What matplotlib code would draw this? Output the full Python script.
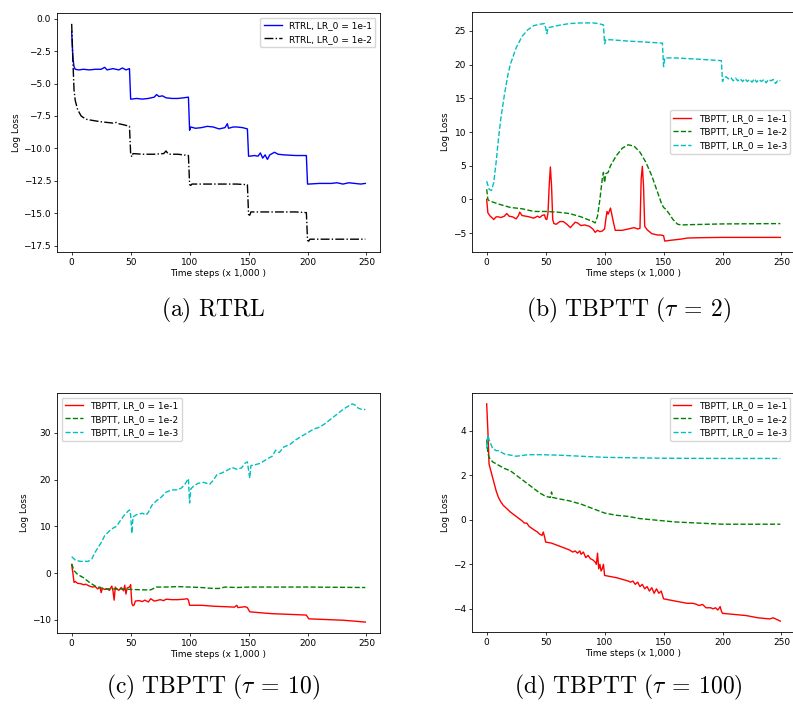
import matplotlib
matplotlib.use('Agg')
import matplotlib.pyplot as plt

plt.rcParams['mathtext.fontset'] = 'cm'

# ---- (a) RTRL ----
rtrl1_x = [0, 1, 2, 3, 6, 10, 15, 20, 25, 28, 30, 35, 40, 43, 46, 49, 50, 51, 55, 60, 65, 70, 72, 74, 77, 80, 85, 90, 95, 99,
           100, 101, 105, 110, 115, 120, 125, 130, 132, 133, 137, 140, 145, 149, 150, 151, 155, 158, 160, 162, 164, 166,
           168, 172, 175, 180, 190, 199, 200, 201, 210, 220, 225, 230, 235, 240, 245, 249]
rtrl1_y = [-1.0, -3.0, -3.7, -3.9, -3.95, -3.9, -3.95, -3.9, -3.9, -3.75, -3.95, -3.85, -3.95, -3.8, -3.95, -3.85, -6.2,
           -6.2, -6.15, -6.2, -6.15, -6.05, -5.85, -6.0, -5.95, -6.1, -6.15, -6.15, -6.1, -6.05,
           -8.6, -8.35, -8.45, -8.4, -8.3, -8.35, -8.5, -8.4, -8.1, -8.45, -8.35, -8.35, -8.4, -8.5, -10.6, -10.6, -10.55,
           -10.6, -10.35, -10.75, -10.5, -10.85, -10.5, -10.3, -10.45, -10.5, -10.55, -10.55, -12.75, -12.75, -12.7,
           -12.7, -12.65, -12.75, -12.65, -12.7, -12.75, -12.7]
rtrl2_x = [0, 1, 2, 3, 5, 8, 12, 18, 25, 30, 35, 38, 40, 45, 49, 50, 51, 52, 60, 70, 78, 80, 82, 90, 99, 100, 101, 102, 110,
           120, 130, 140, 149, 150, 151, 152, 160, 170, 180, 190, 199, 200, 201, 202, 210, 220, 230, 240, 249]
rtrl2_y = [-0.4, -3.2, -5.5, -6.3, -7.0, -7.5, -7.75, -7.85, -7.95, -8.0, -8.05, -8.0, -8.1, -8.2, -8.3, -10.4, -10.65,
           -10.4, -10.45, -10.45, -10.4, -10.2, -10.45, -10.45, -10.55, -12.8, -12.85, -12.75, -12.75, -12.75, -12.75,
           -12.75, -12.8, -15.1, -15.15, -14.9, -14.9, -14.9, -14.9, -14.9, -14.95, -17.1, -17.15, -17.0, -17.0, -17.0,
           -17.0, -17.0, -17.0]

# ---- (b) TBPTT tau = 2 ----
b1_x = [0, 1, 3, 5, 6, 8, 10, 12, 15, 17, 19, 22, 25, 27, 28, 30, 33, 36, 40, 43, 45, 47, 49, 50, 51, 52, 53, 54, 55, 56,
        57, 59, 62, 65, 68, 71, 73, 75, 77, 80, 83, 87, 90, 92, 94, 96, 98, 100, 101, 102, 103, 105, 107, 109, 115, 120,
        125, 128, 130, 131, 132, 133, 134, 136, 140, 145, 148, 150, 151, 155, 160, 165, 170, 180, 200, 210, 230, 249]
b1_y = [0.0, -2.0, -2.5, -2.8, -3.0, -2.6, -2.6, -2.7, -2.5, -2.1, -2.5, -2.6, -2.9, -2.4, -1.9, -2.4, -2.5, -2.6, -2.8,
        -2.5, -2.7, -2.4, -2.3, -2.9, -3.0, -2.0, 2.0, 4.8, 2.0, -3.0, -3.6, -3.7, -3.3, -3.3, -3.7, -4.2, -3.8, -3.4,
        -3.5, -3.9, -3.8, -4.0, -4.4, -4.9, -4.6, -4.8, -4.7, -4.4, -3.0, -1.8, -2.2, -1.3, -3.0, -4.6, -4.6, -4.4,
        -4.2, -4.4, -4.3, 3.0, 4.9, 2.0, -4.0, -4.5, -5.1, -5.3, -5.3, -5.4, -6.2, -6.1, -6.0, -5.9, -5.75, -5.7,
        -5.65, -5.65, -5.65, -5.65]
b2_x = [0, 1, 2, 10, 20, 30, 40, 50, 60, 70, 80, 90, 92, 94, 96, 98, 99, 100, 101, 103, 105, 110, 115, 120, 125, 130, 135,
        140, 145, 148, 150, 152, 155, 158, 162, 165, 175, 200, 249]
b2_y = [1.5, 0.0, -0.2, -0.7, -1.2, -1.4, -1.8, -1.8, -1.9, -2.1, -2.6, -3.3, -3.5, -2.5, 0.0, 3.0, 4.0, 2.5, 3.8, 4.0,
        5.0, 6.5, 7.6, 8.1, 7.9, 7.0, 5.5, 3.5, 1.0, -0.5, -1.2, -1.5, -2.2, -3.0, -3.7, -3.8, -3.75, -3.65, -3.6]
b3_x = [0, 2, 4, 6, 8, 10, 12, 15, 18, 20, 25, 30, 35, 40, 45, 49, 50, 51, 52, 55, 60, 70, 80, 90, 95, 99, 100, 101, 105,
        120, 140, 149, 150, 151, 160, 180, 199, 200, 201, 203, 205, 207, 209, 211, 213, 215, 217, 219, 221, 223, 225,
        227, 229, 231, 233, 235, 237, 239, 241, 243, 245, 247, 249]
b3_y = [2.7, 1.5, 1.3, 2.5, 5.5, 9.0, 12.0, 15.5, 18.5, 20.0, 22.5, 24.2, 25.2, 25.8, 26.0, 26.1, 25.5, 24.6, 25.5, 25.6,
        25.8, 26.1, 26.2, 26.2, 26.1, 25.9, 23.1, 23.7, 23.7, 23.5, 23.3, 23.2, 19.7, 21.0, 21.0, 20.8, 20.6, 17.5,
        18.0, 18.2, 17.9, 18.1, 17.6, 18.0, 17.6, 17.9, 17.5, 17.9, 17.5, 17.8, 17.4, 17.9, 17.4, 17.8, 17.5, 17.8,
        17.3, 17.8, 17.6, 17.8, 17.2, 17.7, 17.6]

# ---- (c) TBPTT tau = 10 ----
c1_x = [0, 1, 2, 3, 5, 8, 10, 12, 15, 18, 20, 22, 24, 25, 26, 28, 30, 32, 34, 35, 36, 37, 38, 40, 42, 44, 45, 46, 47, 49,
        50, 51, 52, 53, 54, 57, 60, 62, 65, 67, 70, 72, 75, 78, 80, 85, 90, 95, 98, 99, 100, 110, 120, 130, 138, 140,
        141, 144, 147, 149, 151, 160, 170, 180, 190, 199, 201, 210, 220, 230, 240, 249]
c1_y = [1.8, 0.0, -2.0, -1.8, -2.2, -2.3, -2.5, -2.4, -2.8, -3.0, -2.9, -3.4, -3.0, -4.2, -3.3, -3.5, -3.4, -3.7, -2.8,
        -3.8, -5.8, -3.0, -3.4, -3.7, -3.1, -3.8, -2.6, -4.5, -3.2, -3.0, -2.5, -6.5, -7.0, -6.8, -6.0, -5.9, -6.1,
        -5.8, -6.2, -5.5, -6.0, -5.9, -5.7, -5.9, -5.6, -5.7, -5.7, -5.6, -5.5, -5.8, -6.9, -6.9, -7.1, -7.2, -7.3,
        -6.9, -7.4, -7.3, -7.2, -7.4, -8.3, -8.5, -8.7, -8.8, -8.9, -9.0, -9.8, -9.9, -10.0, -10.1, -10.3, -10.5]
c2_x = [0, 2, 5, 10, 15, 20, 25, 30, 40, 50, 60, 67, 72, 80, 90, 100, 110, 120, 125, 130, 140, 150, 160, 200, 249]
c2_y = [2.0, 0.5, -0.3, -1.0, -2.0, -2.8, -3.2, -3.4, -3.4, -3.5, -3.6, -3.6, -3.0, -3.0, -2.9, -3.0, -3.1, -3.3, -3.3,
        -3.0, -3.1, -3.0, -3.0, -3.0, -3.1]
c3_x = [0, 3, 7, 14, 17, 20, 25, 28, 32, 35, 38, 42, 45, 48, 49, 50, 51, 52, 55, 60, 63, 65, 68, 72, 75, 80, 85, 90, 93,
        96, 99, 100, 101, 103, 107, 112, 117, 120, 123, 128, 132, 136, 140, 144, 147, 149, 150, 151, 152, 156, 160,
        165, 170, 173, 176, 180, 185, 190, 195, 200, 205, 210, 215, 220, 225, 230, 235, 238, 240, 243, 246, 249]
c3_y = [3.5, 2.8, 2.5, 2.5, 3.0, 4.5, 6.5, 8.0, 9.0, 9.6, 10.0, 11.5, 12.5, 13.3, 13.5, 12.5, 8.5, 12.0, 12.5, 12.8,
        12.4, 13.0, 14.5, 15.5, 16.0, 17.3, 17.8, 17.8, 18.2, 19.0, 20.2, 15.0, 18.0, 18.5, 19.2, 19.4, 19.0, 19.8,
        21.0, 21.5, 22.0, 22.6, 22.2, 22.5, 23.5, 23.8, 22.0, 20.3, 23.0, 23.2, 23.5, 24.3, 25.0, 26.3, 25.8, 27.0,
        27.5, 28.5, 29.3, 30.0, 30.8, 31.2, 32.0, 33.0, 34.0, 35.0, 35.8, 36.2, 36.0, 35.3, 35.0, 35.0]

# ---- (d) TBPTT tau = 100 ----
d1_x = [0, 1, 2, 4, 6, 8, 10, 12, 14, 17, 20, 25, 30, 32, 34, 36, 40, 43, 45, 47, 48, 49, 50, 55, 60, 65, 70, 73, 75, 77,
        79, 80, 82, 84, 86, 88, 90, 92, 93, 94, 95, 96, 97, 98, 99, 100, 110, 120, 122, 124, 126, 128, 130, 132, 134,
        136, 138, 140, 142, 144, 146, 148, 150, 160, 170, 175, 178, 180, 183, 186, 190, 192, 194, 196, 198, 199, 200,
        210, 220, 230, 240, 243, 249]
d1_y = [5.2, 4.0, 2.5, 2.1, 1.7, 1.3, 1.0, 0.8, 0.65, 0.5, 0.35, 0.15, -0.05, -0.15, -0.15, -0.3, -0.45, -0.55, -0.65,
        -0.7, -0.55, -0.75, -1.0, -1.05, -1.15, -1.25, -1.35, -1.45, -1.4, -1.5, -1.4, -1.55, -1.45, -1.7, -1.6, -1.75,
        -1.8, -1.9, -2.0, -1.5, -2.2, -2.0, -2.3, -2.2, -2.0, -2.5, -2.6, -2.75, -2.8, -2.75, -2.9, -2.8, -3.0, -2.9,
        -3.1, -3.0, -3.2, -3.05, -3.3, -3.1, -3.3, -3.2, -3.55, -3.65, -3.75, -3.75, -3.8, -3.85, -3.8, -3.95, -3.95,
        -4.0, -3.95, -4.05, -3.9, -4.1, -4.2, -4.25, -4.3, -4.4, -4.45, -4.4, -4.55]
d2_x = [0, 1, 2, 5, 10, 15, 20, 25, 30, 35, 40, 45, 50, 54, 55, 56, 60, 70, 80, 90, 100, 110, 120, 130, 140, 150, 160, 180,
        200, 249]
d2_y = [3.6, 3.0, 2.8, 2.6, 2.45, 2.3, 2.2, 2.0, 1.8, 1.6, 1.4, 1.2, 1.05, 1.0, 1.25, 1.0, 0.95, 0.85, 0.7, 0.5, 0.3, 0.2,
        0.15, 0.05, 0.0, -0.05, -0.1, -0.15, -0.2, -0.2]
d3_x = [0, 1, 2, 5, 8, 10, 15, 20, 25, 30, 35, 45, 60, 80, 100, 150, 200, 249]
d3_y = [3.2, 3.8, 3.6, 3.2, 3.1, 3.1, 2.95, 2.9, 2.85, 2.88, 2.92, 2.92, 2.9, 2.85, 2.8, 2.76, 2.75, 2.75]

tb_labels = ['TBPTT, LR_0 = 1e-1', 'TBPTT, LR_0 = 1e-2', 'TBPTT, LR_0 = 1e-3']
captions = [r'$\mathrm{(a)\ RTRL}$', r'$\mathrm{(b)\ TBPTT\ (}\tau\:=\:2\mathrm{)}$',
            r'$\mathrm{(c)\ TBPTT\ (}\tau\:=\:10\mathrm{)}$', r'$\mathrm{(d)\ TBPTT\ (}\tau\:=\:100\mathrm{)}$']

W, H = 793, 704
fig = plt.figure(figsize=(W / 100, H / 100), dpi=100)

def px_axes(left, top, right, bottom):
    return fig.add_axes([left / W, 1 - bottom / H, (right - left) / W, (bottom - top) / H])

axa = px_axes(57, 13, 380, 252)
axb = px_axes(472, 12, 795, 252)
axc = px_axes(57, 393, 380, 633)
axd = px_axes(472, 393, 795, 632)

lw = 1.0
axa.plot(rtrl1_x, rtrl1_y, 'b-', lw=lw, label='RTRL, LR_0 = 1e-1')
axa.plot(rtrl2_x, rtrl2_y, 'k-.', lw=lw, label='RTRL, LR_0 = 1e-2')
axa.legend(loc='upper right', fontsize=6.5)

for ax, data, loc in [(axb, [(b1_x, b1_y), (b2_x, b2_y), (b3_x, b3_y)], 'center right'),
                      (axc, [(c1_x, c1_y), (c2_x, c2_y), (c3_x, c3_y)], 'upper left'),
                      (axd, [(d1_x, d1_y), (d2_x, d2_y), (d3_x, d3_y)], 'upper right')]:
    for (x, y), st, lab in zip(data, ['r-', 'g--', 'c--'], tb_labels):
        ax.plot(x, y, st, lw=lw, label=lab)
    ax.legend(loc=loc, fontsize=6.5)

for ax in [axa, axb, axc, axd]:
    ax.set_xlabel('Time steps (x 1,000 )', fontsize=6.5, labelpad=1.5)
    ax.set_ylabel('Log Loss', fontsize=6.5, labelpad=2)
    ax.tick_params(labelsize=6.5, length=2.3, width=0.55, pad=2)
    ax.set_xticks([0, 50, 100, 150, 200, 250])
    for s in ax.spines.values():
        s.set_linewidth(0.6)

cap_pos = [(213, 310), (629, 310), (213, 687), (628, 687)]
for (cx, cy), cap in zip(cap_pos, captions):
    fig.text(cx / W, 1 - cy / H, cap, ha='center', va='center', fontsize=17)

fig.savefig('out.png', dpi=100)
